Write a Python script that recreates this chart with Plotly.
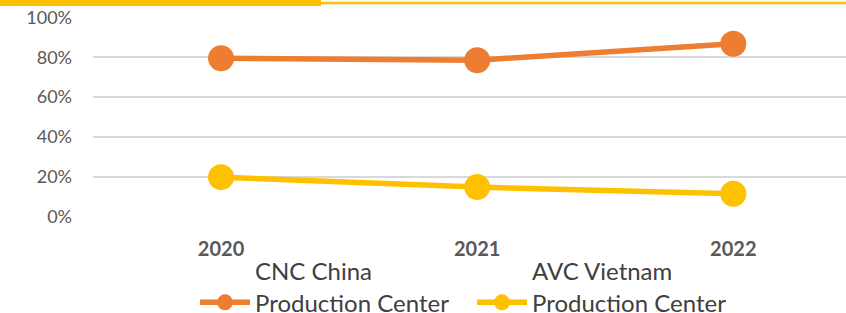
import plotly.graph_objects as go

years = ["2020", "2021", "2022"]
cnc_china = [0.795, 0.785, 0.868]
avc_vietnam = [0.198, 0.148, 0.115]
y_ticks = [0, 0.2, 0.4, 0.6, 0.8, 1.0]
y_tick_labels = ["0%", "20%", "40%", "60%", "80%", "100%"]

W, H = 846, 313
ML, MR, MT, MB = 93, 0, 17, 96
PW, PH = W - ML - MR, H - MT - MB

def px_x(px):
    return (px - ML) / PW

def px_y(py):
    return (H - MB - py) / PH

ORANGE = "#ED7D31"
GOLD = "#FFC000"
FONT = "Lato"

fig = go.Figure()
fig.add_trace(go.Scatter(
    x=years, y=cnc_china, name="CNC China<br>Production Center",
    mode="lines+markers",
    line=dict(color=ORANGE, width=5.5),
    marker=dict(size=26, color=ORANGE),
))
fig.add_trace(go.Scatter(
    x=years, y=avc_vietnam, name="AVC Vietnam<br>Production Center",
    mode="lines+markers",
    line=dict(color=GOLD, width=5.5),
    marker=dict(size=26, color=GOLD),
))

fig.update_layout(
    width=W, height=H,
    margin=dict(l=ML, r=MR, t=MT, b=MB, pad=0, autoexpand=False),
    paper_bgcolor="white", plot_bgcolor="white",
    font=dict(family=FONT, color="#595959"),
    showlegend=True,
    legend=dict(
        orientation="h", x=px_x(195), xanchor="left",
        y=px_y(249), yanchor="top",
        font=dict(size=24, color="#404040", family=FONT),
        valign="bottom", itemwidth=50,
        entrywidth=212, entrywidthmode="pixels",
        bgcolor="rgba(0,0,0,0)",
    ),
    xaxis=dict(
        type="category", range=[-0.5, 2.44], automargin=False,
        showgrid=False, zeroline=False, showline=False,
        tickfont=dict(size=20, color="#595959", family=FONT, weight="bold"),
        ticklabelstandoff=18,
    ),
    yaxis=dict(
        range=[-0.002, 1.002], tickvals=y_ticks, ticktext=y_tick_labels,
        automargin=False,
        showgrid=True, gridcolor="#D9D9D9", gridwidth=1.5,
        zeroline=False, showline=False,
        tickfont=dict(size=18, color="#595959", family=FONT),
        ticklabelstandoff=20,
    ),
    shapes=[
        dict(type="rect", xref="paper", yref="paper",
             x0=px_x(0), x1=px_x(321), y0=px_y(6), y1=px_y(0),
             fillcolor=GOLD, line=dict(width=0), layer="above"),
        dict(type="rect", xref="paper", yref="paper",
             x0=px_x(321), x1=px_x(846), y0=px_y(4.3), y1=px_y(1.7),
             fillcolor=GOLD, line=dict(width=0), layer="above"),
    ],
)

fig.write_html(
    "out.html",
    config={"displayModeBar": False},
    post_script="document.body.style.margin='0';document.body.style.overflow='hidden';",
)
